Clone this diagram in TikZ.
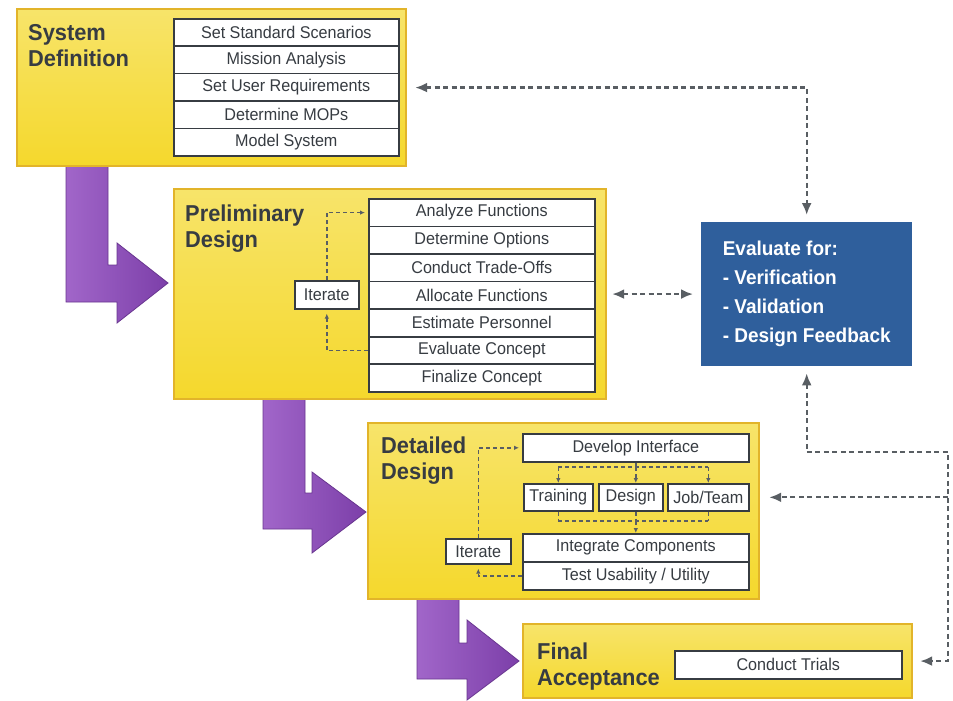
\documentclass[tikz,border=0pt]{standalone}
\usepackage{fontspec}
\setmainfont{Liberation Sans}[FakeStretch=0.95]
\usetikzlibrary{arrows.meta,calc}
\definecolor{yfill}{HTML}{F5D82C}
\definecolor{ylight}{HTML}{F7E46A}
\definecolor{yborder}{HTML}{E2B42A}
\definecolor{txt}{HTML}{373C42}
\definecolor{bluebox}{HTML}{2F5F9C}
\definecolor{conn}{HTML}{595E63}
\definecolor{purpL}{HTML}{A166C9}
\definecolor{purpR}{HTML}{7C3FA9}
\begin{document}
\begin{tikzpicture}[x=1pt,y=-1pt,
  ybox/.style={draw=yborder, line width=2.2pt, top color=ylight, bottom color=yfill, inner sep=0pt, anchor=north west},
  rowbox/.style={draw=txt, line width=1.6pt, fill=white, inner sep=0pt, text=txt,
    font=\fontsize{17}{17}\selectfont, anchor=north west},
  title/.style={anchor=north west, inner sep=0pt, align=left, text=txt,
    font=\fontsize{23}{26}\selectfont\bfseries},
  purparrow/.style={left color=purpL, right color=purpR, draw=purpR!85!black, line width=0.8pt},
  bigconn/.style={draw=conn, line width=2.3pt, dash pattern=on 5pt off 3.5pt},
  smallconn/.style={draw=conn, line width=1.6pt, dash pattern=on 4pt off 3pt},
  bigtip/.style={arrows={-Latex[length=12pt,width=10pt]}},
  smalltip/.style={arrows={-Latex[length=5pt,width=4.5pt]}}
]
\useasboundingbox (0,0) rectangle (953,701);
\fill[white] (0,0) rectangle (953,701);

% purple step arrows
\path[purparrow] (66,165) -- (108,165) -- (108,265) -- (117,265) -- (117,243) -- (168,283)
  -- (117,323) -- (117,302) -- (66,302) -- cycle;
\path[purparrow] (263,398) -- (305,398) -- (305,493) -- (312,493) -- (312,472) -- (366,512)
  -- (312,553) -- (312,529) -- (263,529) -- cycle;
\path[purparrow] (417,598) -- (459,598) -- (459,643) -- (467,643) -- (467,620) -- (519,661)
  -- (467,700) -- (467,679) -- (417,679) -- cycle;

% stage boxes
\node[ybox, minimum width=389pt, minimum height=157pt] (sys) at (16,8) {};
\node[ybox, minimum width=432pt, minimum height=210pt] (pre) at (173,188) {};
\node[ybox, minimum width=391pt, minimum height=176pt] (det) at (367,422) {};
\node[ybox, minimum width=389pt, minimum height=74pt] (fin) at (522,623) {};

% titles
\node[title] (tsys) at (28,24) {System\\Definition};
\node[title] (tpre) at (185,205) {Preliminary\\Design};
\node[title] (tdet) at (381,437) {Detailed\\Design};
\node[title] (tfin) at (537,643) {Final\\Acceptance};

% System Definition stack
\node[rowbox, minimum width=225pt, minimum height=27.4pt] (s1) at (173,18) {Set Standard Scenarios};
\node[rowbox, minimum width=225pt, minimum height=27.4pt] (s2) at (173,45.4) {Mission Analysis};
\node[rowbox, minimum width=225pt, minimum height=27.4pt] (s3) at (173,72.8) {Set User Requirements};
\node[rowbox, minimum width=225pt, minimum height=27.4pt] (s4) at (173,100.2) {Determine MOPs};
\node[rowbox, minimum width=225pt, minimum height=27.4pt] (s5) at (173,127.6) {Model System};

% Preliminary Design stack
\node[rowbox, minimum width=226pt, minimum height=27.6pt] (p1) at (368,198) {Analyze Functions};
\node[rowbox, minimum width=226pt, minimum height=27.6pt] (p2) at (368,225.6) {Determine Options};
\node[rowbox, minimum width=226pt, minimum height=27.6pt] (p3) at (368,253.1) {Conduct Trade-Offs};
\node[rowbox, minimum width=226pt, minimum height=27.6pt] (p4) at (368,280.7) {Allocate Functions};
\node[rowbox, minimum width=226pt, minimum height=27.6pt] (p5) at (368,308.3) {Estimate Personnel};
\node[rowbox, minimum width=226pt, minimum height=27.6pt] (p6) at (368,335.9) {Evaluate Concept};
\node[rowbox, minimum width=226pt, minimum height=27.6pt] (p7) at (368,363.4) {Finalize Concept};
\node[rowbox, minimum width=64pt, minimum height=28pt] (it1) at (294,280) {Iterate};

% Detailed Design boxes
\node[rowbox, minimum width=226pt, minimum height=28pt] (dev) at (522,433) {Develop Interface};
\node[rowbox, minimum width=69pt, minimum height=27pt] (tr) at (523,483) {Training};
\node[rowbox, minimum width=64pt, minimum height=27pt] (des) at (598,483) {Design};
\node[rowbox, minimum width=81pt, minimum height=27pt] (job) at (667,483) {Job/Team};
\node[rowbox, minimum width=226pt, minimum height=28pt] (integ) at (522,533) {Integrate Components};
\node[rowbox, minimum width=226pt, minimum height=28pt] (test) at (522,561) {Test Usability / Utility};
\node[rowbox, minimum width=65pt, minimum height=25pt] (it2) at (445,538) {Iterate};

% Final Acceptance
\node[rowbox, minimum width=227pt, minimum height=28pt] (ct) at (674,650) {Conduct Trials};

% Evaluate box
\node[fill=bluebox, anchor=north west, minimum width=211pt, minimum height=144pt,
  inner sep=0pt, align=left, text=white,
  font=\fontsize{20}{29}\selectfont\bfseries] (eval) at (701,222)
  {Evaluate for:\\- Verification\\- Validation\\- Design Feedback};

% iterate loops, preliminary
\draw[smallconn, smalltip, shorten >=3pt] (it1.north) |- (p1.west);
\draw[smallconn, smalltip, shorten >=4pt] (p6.west) -| (it1.south);

% iterate loops, detailed
\draw[smallconn, smalltip, shorten >=3pt] (it2.north) |- (dev.west);
\draw[smallconn, smalltip, shorten >=4pt] (test.west) -| (it2.south);

% branches in detailed design
\coordinate (hu) at (560,467);
\coordinate (hl) at (560,521);
\draw[smallconn] (tr.north |- hu) -- (job.north |- hu);
\draw[smallconn] (dev.south) -- (dev.south |- hu);
\draw[smallconn, smalltip] (tr.north |- hu) -- (tr.north);
\draw[smallconn, smalltip] (dev.south |- hu) -- (dev.south |- des.north);
\draw[smallconn, smalltip] (job.north |- hu) -- (job.north);
\draw[smallconn] (tr.south) -- (tr.south |- hl);
\draw[smallconn] (dev.south |- des.south) -- (dev.south |- hl);
\draw[smallconn] (job.south) -- (job.south |- hl);
\draw[smallconn] (tr.south |- hl) -- (job.south |- hl);
\draw[smallconn, smalltip] (dev.south |- hl) -- (dev.south |- integ.north);

% evaluation feedback connectors
\coordinate (rc) at (948,452);
\draw[bigconn, arrows={Latex[length=12pt,width=10pt]-Latex[length=12pt,width=10pt]},
  shorten <=8pt, shorten >=7pt] (sys.east) -- (sys.east -| eval.north) -- (eval.north);
\draw[bigconn, arrows={Latex[length=12pt,width=10pt]-Latex[length=12pt,width=10pt]},
  shorten <=5pt, shorten >=8pt] (pre.east) -- (eval.west |- pre.east);
\draw[bigconn, arrows={Latex[length=12pt,width=10pt]-Latex[length=12pt,width=10pt]},
  shorten <=7pt, shorten >=7pt] (eval.south) |- (rc) |- (fin.east);
\draw[bigconn, bigtip, shorten >=9pt] (rc |- job.east) -- (det.east |- job.east);
\end{tikzpicture}
\end{document}
